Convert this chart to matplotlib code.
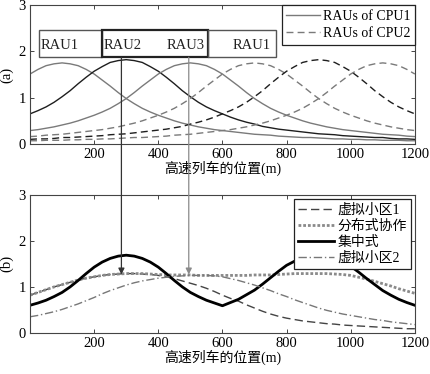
import matplotlib
matplotlib.use("Agg")
import matplotlib.pyplot as plt
from matplotlib.patches import Rectangle, ConnectionPatch

plt.rcParams['font.family'] = ['Liberation Serif', 'Noto Sans CJK SC']
plt.rcParams['font.size'] = 10

# ---------------- data ----------------
x_pos = list(range(0, 1201, 25))  # train position samples (m)

# (a) RAU signal profiles
cpu1_rau1 = [1.51, 1.61, 1.69, 1.73, 1.75, 1.73, 1.69, 1.61, 1.51, 1.38, 1.25, 1.11, 0.98,
             0.87, 0.77, 0.69, 0.62, 0.56, 0.50, 0.45, 0.41, 0.37, 0.34, 0.31, 0.29,
             0.27, 0.25, 0.23, 0.21, 0.20, 0.19, 0.17, 0.16, 0.15, 0.14, 0.14, 0.13,
             0.12, 0.11, 0.11, 0.10, 0.10, 0.09, 0.09, 0.08, 0.08, 0.08, 0.07, 0.07]
cpu1_rau2 = [0.65, 0.72, 0.80, 0.90, 1.02, 1.15, 1.30, 1.44, 1.57, 1.67, 1.76, 1.80, 1.82,
             1.80, 1.76, 1.67, 1.57, 1.44, 1.30, 1.15, 1.02, 0.90, 0.80, 0.72, 0.65,
             0.58, 0.52, 0.47, 0.43, 0.38, 0.35, 0.32, 0.30, 0.28, 0.26, 0.24, 0.22,
             0.21, 0.20, 0.18, 0.17, 0.16, 0.15, 0.14, 0.14, 0.12, 0.11, 0.11, 0.10]
cpu1_rau3 = [0.29, 0.31, 0.34, 0.37, 0.41, 0.45, 0.50, 0.56, 0.62, 0.69, 0.77, 0.87, 0.98,
             1.11, 1.25, 1.38, 1.51, 1.61, 1.69, 1.73, 1.75, 1.73, 1.69, 1.61, 1.51,
             1.38, 1.25, 1.11, 0.98, 0.87, 0.77, 0.69, 0.62, 0.56, 0.50, 0.45, 0.41,
             0.37, 0.34, 0.31, 0.29, 0.27, 0.25, 0.23, 0.21, 0.20, 0.19, 0.17, 0.16]
cpu2_rau1 = [0.16, 0.17, 0.19, 0.20, 0.21, 0.23, 0.25, 0.27, 0.29, 0.31, 0.34, 0.37, 0.41,
             0.45, 0.50, 0.56, 0.62, 0.69, 0.77, 0.87, 0.98, 1.11, 1.25, 1.38, 1.51,
             1.61, 1.69, 1.73, 1.75, 1.73, 1.69, 1.61, 1.51, 1.38, 1.25, 1.11, 0.98,
             0.87, 0.77, 0.69, 0.62, 0.56, 0.50, 0.45, 0.41, 0.37, 0.34, 0.31, 0.29]
cpu2_rau2 = [0.10, 0.11, 0.11, 0.12, 0.14, 0.14, 0.15, 0.16, 0.17, 0.18, 0.20, 0.21, 0.22,
             0.24, 0.26, 0.28, 0.30, 0.32, 0.35, 0.38, 0.43, 0.47, 0.52, 0.58, 0.65,
             0.72, 0.80, 0.90, 1.02, 1.15, 1.30, 1.44, 1.57, 1.67, 1.76, 1.80, 1.82,
             1.80, 1.76, 1.67, 1.57, 1.44, 1.30, 1.15, 1.02, 0.90, 0.80, 0.72, 0.65]
cpu2_rau3 = [0.07, 0.07, 0.08, 0.08, 0.08, 0.09, 0.09, 0.10, 0.10, 0.11, 0.11, 0.12, 0.13,
             0.14, 0.14, 0.15, 0.16, 0.17, 0.19, 0.20, 0.21, 0.23, 0.25, 0.27, 0.29,
             0.31, 0.34, 0.37, 0.41, 0.45, 0.50, 0.56, 0.62, 0.69, 0.77, 0.87, 0.98,
             1.11, 1.25, 1.38, 1.51, 1.61, 1.69, 1.73, 1.75, 1.73, 1.69, 1.61, 1.51]

# (b) schemes
virtual_cell1 = [0.82, 0.88, 0.94, 1.00, 1.05, 1.10, 1.15, 1.19, 1.22, 1.25, 1.27, 1.28, 1.29,
                 1.29, 1.28, 1.27, 1.25, 1.22, 1.18, 1.13, 1.08, 1.03, 0.97, 0.90, 0.82,
                 0.75, 0.69, 0.61, 0.54, 0.47, 0.41, 0.36, 0.32, 0.29, 0.26, 0.24, 0.22,
                 0.20, 0.19, 0.17, 0.16, 0.15, 0.14, 0.13, 0.12, 0.11, 0.10, 0.09, 0.09]
distributed = [0.82, 0.88, 0.94, 1.00, 1.05, 1.10, 1.15, 1.19, 1.22, 1.25, 1.27, 1.28, 1.29,
               1.29, 1.29, 1.28, 1.27, 1.26, 1.26, 1.26, 1.26, 1.25, 1.25, 1.25, 1.25,
               1.25, 1.25, 1.25, 1.26, 1.26, 1.26, 1.27, 1.28, 1.29, 1.29, 1.29, 1.29,
               1.29, 1.28, 1.27, 1.25, 1.21, 1.17, 1.12, 1.07, 1.02, 0.96, 0.91, 0.86]
centralized = [0.60, 0.65, 0.71, 0.79, 0.88, 1.00, 1.14, 1.29, 1.43, 1.54, 1.62, 1.67, 1.69,
               1.67, 1.62, 1.54, 1.43, 1.29, 1.14, 1.00, 0.88, 0.79, 0.71, 0.65, 0.59,
               0.66, 0.73, 0.83, 0.93, 1.06, 1.20, 1.34, 1.47, 1.56, 1.63, 1.67, 1.69,
               1.67, 1.63, 1.55, 1.45, 1.32, 1.18, 1.05, 0.92, 0.82, 0.73, 0.66, 0.60]
virtual_cell2 = [0.35, 0.38, 0.42, 0.46, 0.51, 0.57, 0.63, 0.70, 0.77, 0.85, 0.92, 0.98, 1.04,
                 1.09, 1.13, 1.16, 1.19, 1.21, 1.23, 1.24, 1.25, 1.25, 1.25, 1.24, 1.22,
                 1.18, 1.14, 1.09, 1.04, 0.98, 0.92, 0.85, 0.79, 0.72, 0.66, 0.60, 0.54,
                 0.49, 0.45, 0.41, 0.38, 0.35, 0.32, 0.29, 0.27, 0.24, 0.22, 0.20, 0.18]

x_ticks = [200, 400, 600, 800, 1000, 1200]
y_ticks = [0, 1, 2, 3]
xlabel = '高速列车的位置(m)'
legend_a = ['RAUs of CPU1', 'RAUs of CPU2']
legend_b = ['虚拟小区1', '分布式协作', '集中式', '虚拟小区2']
rau_labels = ['RAU1', 'RAU2', 'RAU3', 'RAU1']
rau_label_x = [92, 290, 486, 690]
box_edges = [29, 226, 555, 767]
arrow_x = [285, 495]

GRAY = '#7a7a7a'
DARK = '#1e1e1e'

fig = plt.figure(figsize=(4.30, 3.74), dpi=100)
ax1 = fig.add_axes([0.0698, 0.615, 0.895, 0.3717])
ax2 = fig.add_axes([0.0698, 0.110, 0.895, 0.3686])

for ax in (ax1, ax2):
    ax.set_xlim(0, 1200)
    ax.set_ylim(0, 3)
    ax.set_xticks(x_ticks)
    ax.set_yticks(y_ticks)
    ax.tick_params(direction='in', top=True, right=True, length=3, width=0.7,
                   labelsize=10.5, pad=3, color='#444444')
    for s in ax.spines.values():
        s.set_color('#444444')
        s.set_linewidth(0.8)
    ax.set_xlabel(xlabel, fontsize=10, labelpad=0)

# (a)
ax1.plot(x_pos, cpu1_rau1, color=GRAY, lw=1.0, label=legend_a[0])
ax1.plot(x_pos, cpu1_rau2, color=DARK, lw=1.0)
ax1.plot(x_pos, cpu1_rau3, color=GRAY, lw=1.0)
ax1.plot(x_pos, cpu2_rau1, color=GRAY, lw=1.0, ls=(0, (5, 3)), label=legend_a[1])
ax1.plot(x_pos, cpu2_rau2, color=DARK, lw=1.0, ls=(0, (5, 3)))
ax1.plot(x_pos, cpu2_rau3, color=GRAY, lw=1.0, ls=(0, (5, 3)))
ax1.set_ylabel('(a)', fontsize=10.5, labelpad=4)

box_lo, box_hi = 1.87, 2.45
box_styles = [('#555555', 1.0), ('#222222', 1.6), ('#555555', 1.0)]
for i in range(3):
    c, w = box_styles[i]
    ax1.add_patch(Rectangle((box_edges[i], box_lo), box_edges[i + 1] - box_edges[i],
                            box_hi - box_lo, fill=False, ec=c, lw=w, zorder=3))
for lx, t in zip(rau_label_x, rau_labels):
    ax1.text(lx, 2.12, t, ha='center', va='center', fontsize=10.5, color='#222222')

leg1 = ax1.legend(loc='upper right', borderaxespad=0.0, handlelength=2.4,
                  handletextpad=0.2, labelspacing=0.3, fontsize=10,
                  fancybox=False, framealpha=1, edgecolor='#222222',
                  borderpad=0.35)
leg1.get_frame().set_linewidth(0.9)
leg1.set_zorder(6)

# (b)
ax2.plot(x_pos, virtual_cell1, color='#444444', lw=1.0, ls=(0, (6, 3)), label=legend_b[0])
ax2.plot(x_pos, distributed, color='#8a8a8a', lw=2.0, ls=(0, (1, 0.7)), label=legend_b[1])
ax2.plot(x_pos, centralized, color='#000000', lw=2.0, label=legend_b[2])
ax2.plot(x_pos, virtual_cell2, color='#777777', lw=1.0, ls=(0, (6, 2, 1, 2)), label=legend_b[3])
ax2.set_ylabel('(b)', fontsize=10.5, labelpad=4)

leg2 = ax2.legend(loc='upper right', borderaxespad=0.3, handlelength=2.6,
                  handletextpad=0.2, labelspacing=0.2, fontsize=10,
                  fancybox=False, framealpha=1, edgecolor='#222222',
                  borderpad=0.3)
leg2.get_frame().set_linewidth(0.9)

# arrows linking the two panels
arrow_colors = ['#333333', '#8a8a8a']
for ax_x, col in zip(arrow_x, arrow_colors):
    con = ConnectionPatch(xyA=(ax_x, box_lo), coordsA=ax1.transData,
                          xyB=(ax_x, 1.27), coordsB=ax2.transData,
                          arrowstyle='-|>', mutation_scale=9, color=col, lw=0.9,
                          zorder=5)
    fig.add_artist(con)

fig.savefig('out.png', dpi=100)
